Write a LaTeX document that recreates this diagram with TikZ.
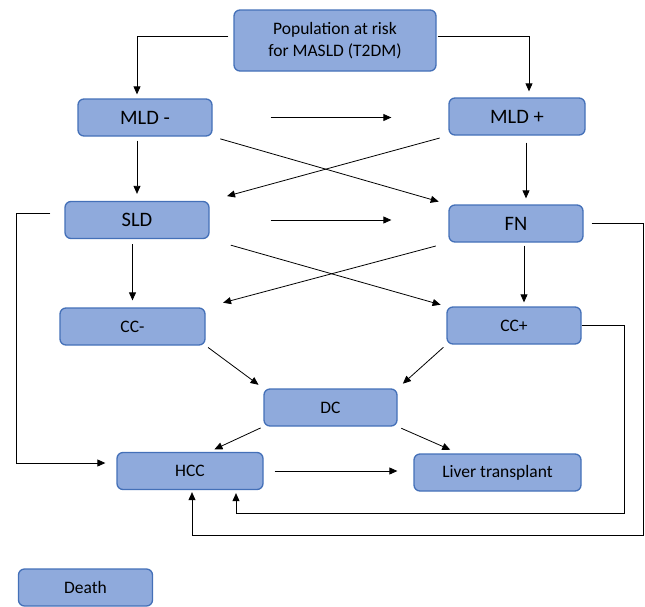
\documentclass[tikz,border=0pt]{standalone}
\usepackage{fontspec}
\setmainfont{Carlito}
\usetikzlibrary{arrows.meta}
\definecolor{boxfill}{HTML}{8FAADC}
\definecolor{boxline}{HTML}{4470B8}
\tikzstyle{stage}=[rectangle,rounded corners=6pt,fill=boxfill,draw=boxline,line width=1.3pt,minimum height=37pt,inner sep=0pt,font=\fontsize{17.5}{22}\selectfont]
\tikzstyle{big stage}=[stage,font=\fontsize{20.5}{24}\selectfont]
\tikzstyle{edge}=[draw,line width=0.8pt,-{Triangle[length=8pt,width=7pt]}]

\begin{document}
\begin{tikzpicture}[x=1pt,y=-1pt]
    \useasboundingbox (0,0) rectangle (645,606);
    % The population node on top
    \node[stage,minimum width=202pt,minimum height=61pt,align=center] (pop) at (335,40.5) {Population at risk\\for MASLD (T2DM)};

    % Liver disease stages
    \foreach \pos/\name/\w/\txt in {{(145,117.5)/mldm/134/MLD -}, {(517,116.5)/mldp/136/MLD +}, {(137,220)/sld/144/SLD}, {(516,223.5)/fn/134/FN}}
        \node[big stage,minimum width=\w*1pt] (\name) at \pos {\txt};

    % Cirrhosis and outcomes
    \foreach \pos/\name/\w/\txt in {{(132.5,326.5)/ccm/145/CC-}, {(514,325.5)/ccp/134/CC+}, {(330.5,407.5)/dc/133/DC}, {(190,471)/hcc/146/HCC}, {(497.5,472.5)/lt/167/Liver transplant}, {(85.5,587.5)/death/134/Death}}
        \node[stage,minimum width=\w*1pt] (\name) at \pos {\txt};

    % Split of the population
    \path[edge,shorten <=5pt,shorten >=4pt] ([yshift=4pt]pop.west) -| ([xshift=-8pt]mldm.north);
    \path[edge,shorten <=1pt,shorten >=6pt] ([yshift=4pt]pop.east) -| ([xshift=12pt]mldp.north);

    % Horizontal transitions
    \path[edge,shorten <=58pt,shorten >=57pt] (mldm.east) -- (mldm.east -| mldp.west);
    \path[edge,shorten <=61pt,shorten >=57pt] (sld.east) -- (sld.east -| fn.west);
    \path[edge,shorten <=11pt,shorten >=16pt] (hcc.east) -- (hcc.east -| lt.west);

    % Vertical transitions
    \path[edge,shorten <=4pt,shorten >=7pt] (sld.north |- mldm.south) -- (sld.north);
    \path[edge,shorten <=7pt,shorten >=6pt] ([xshift=9pt]mldp.south) -- ([xshift=9pt]mldp.south |- fn.north);
    \path[edge,shorten <=5pt,shorten >=7pt] (ccm.north |- sld.south) -- (ccm.north);
    \path[edge,shorten <=3pt,shorten >=4pt] ([xshift=8pt]fn.south) -- ([xshift=8pt]fn.south |- ccp.north);

    % Crossing transitions
    \foreach \source/\dest/\a/\b in {mldm.south east/fn.north west/8/10, mldp.south west/sld.north east/9/18, sld.south east/ccp.north west/22/6, fn.south west/ccm.north east/13/18, ccm.south east/dc.north west/3/6, ccp.south west/dc.north east/4/7}
        \path[edge,shorten <=\a pt,shorten >=\b pt] (\source) -- (\dest);
    \path[edge,shorten <=3pt,shorten >=6pt] (dc.south west) -- ([xshift=19pt]hcc.north);
    \path[edge,shorten <=4pt,shorten >=9pt] (dc.south east) -- ([xshift=-39pt]lt.north);

    % Long way round to HCC
    \path[edge,shorten <=14pt,shorten >=11pt] ([yshift=7pt]sld.west) -- ++(-48,0) |- ([yshift=8pt]hcc.west);
    \path[edge,shorten <=8pt,shorten >=2pt] (fn.east) -- ++(60,0) -- ++(0,312) -| ([xshift=2pt]hcc.south);
    \path[edge,shorten >=3pt] (ccp.east) -- ++(43,0) -- ++(0,188) -| ([xshift=46pt]hcc.south);
\end{tikzpicture}
\end{document}
